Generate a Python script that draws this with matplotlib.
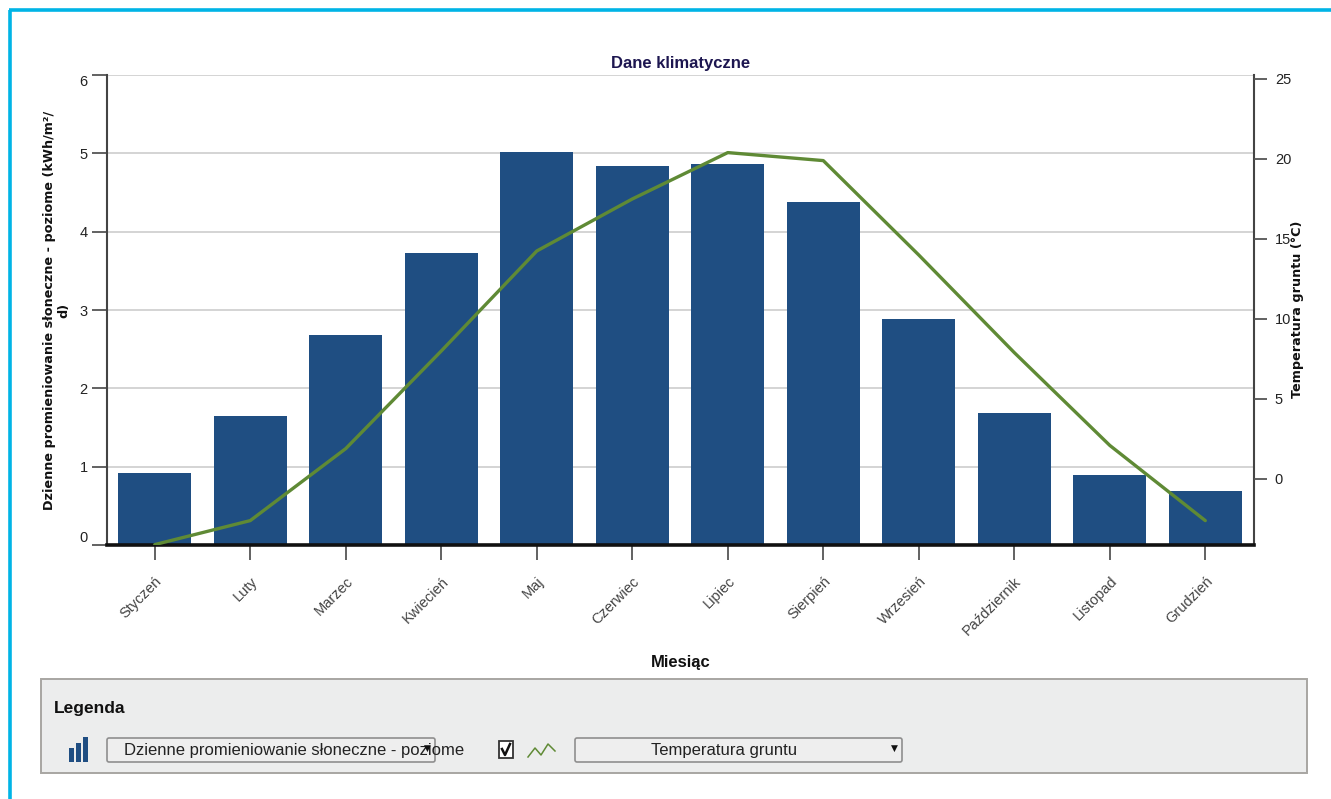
import matplotlib
matplotlib.use("Agg")
import matplotlib.pyplot as plt
from matplotlib import font_manager as fm
from matplotlib.patches import Rectangle, FancyBboxPatch

W, H = 1331, 799

months = ["Styczeń", "Luty", "Marzec", "Kwiecień", "Maj", "Czerwiec", "Lipiec",
          "Sierpień", "Wrzesień", "Październik", "Listopad", "Grudzień"]
irradiation = [0.92, 1.65, 2.68, 3.73, 5.02, 4.84, 4.87, 4.38, 2.88, 1.68, 0.90, 0.69]
ground_temp = [-4.1, -2.6, 1.9, 8.0, 14.25, 17.5, 20.4, 19.9, 14.0, 7.9, 2.1, -2.6]
left_ticks = [0, 1, 2, 3, 4, 5, 6]
right_ticks = [0, 5, 10, 15, 20, 25]

installed = {f.name for f in fm.fontManager.ttflist}
NARROW = "Liberation Sans Narrow" if "Liberation Sans Narrow" in installed else "Liberation Sans"

BAR = "#1f4e82"
LINE = "#5f8a35"
INK = "#222222"

fig = plt.figure(figsize=(W / 100, H / 100), dpi=100, facecolor="white")


def box(x0, y0, x1, y1):
    return [x0 / W, 1 - y1 / H, (x1 - x0) / W, (y1 - y0) / H]


ax = fig.add_axes(box(107, 75, 1254, 545))
ax.set_xlim(-0.5, 11.51)
ax.set_ylim(0, 6)
ax.bar(range(12), irradiation, width=0.765, color=BAR, zorder=2)
ax.grid(axis="y", color="#d4d4d4", lw=1.4, zorder=0)
ax.set_axisbelow(True)
ax.set_xticks(range(12))
ax.set_xticklabels(months, rotation=45, ha="right", rotation_mode="anchor",
                   family=NARROW, fontsize=10.5, color="#444444")
ax.set_yticks(left_ticks)
ax.set_yticklabels([str(v) for v in left_ticks], family=NARROW, fontsize=10.5, color=INK)
labels = ax.get_yticklabels()
labels[0].set_verticalalignment("bottom")
labels[-1].set_verticalalignment("top")
ax.tick_params(axis="x", length=11, width=1.3, color="#555555", pad=10)
ax.tick_params(axis="y", length=11, width=1.3, color="#555555", pad=3)
ax.spines["top"].set_visible(False)
ax.spines["left"].set_linewidth(1.5)
ax.spines["left"].set_color("#444444")
ax.spines["right"].set_linewidth(1.5)
ax.spines["right"].set_color("#444444")
ax.spines["bottom"].set_linewidth(2.6)
ax.spines["bottom"].set_color("#111111")
ax.set_title("Dane klimatyczne", family=NARROW, fontweight="bold", fontsize=12,
             color="#1d1650", pad=5)
ax.set_xlabel("Miesiąc", family=NARROW, fontweight="bold", fontsize=12, color="#111111")
ax.xaxis.set_label_coords(0.5, 1 - (655 - 75) / 470, transform=ax.transAxes)
fig.text(57 / W, 1 - 310 / H, "Dzienne promieniowanie słoneczne - poziome (kWh/m²/\nd)",
         rotation=90, ha="center", va="center", multialignment="center",
         fontweight="bold", fontsize=9.2, color="#111111", linespacing=1.15)

ax2 = ax.twinx()
ax2.set_ylim(-4.125, 25.25)
ax2.plot(range(12), ground_temp, color=LINE, lw=2.4, zorder=5, solid_capstyle="round",
         solid_joinstyle="round")
ax2.set_yticks(right_ticks)
ax2.set_yticklabels([str(v) for v in right_ticks], family=NARROW, fontsize=10.5, color=INK)
ax2.tick_params(axis="y", length=9, width=1.3, color="#555555", pad=6)
for s in ("top", "left", "bottom", "right"):
    ax2.spines[s].set_visible(False)
fig.text(1298 / W, 1 - 309 / H, "Temperatura gruntu (°C)", rotation=90, ha="center", va="center",
         fontweight="bold", fontsize=9.2, color="#111111")

# Page furniture and the legend panel, laid out in pixel coordinates
ui = fig.add_axes([0, 0, 1, 1], zorder=10)
ui.set_xlim(0, W)
ui.set_ylim(H, 0)
ui.axis("off")
ui.patch.set_alpha(0)

ui.plot([10, 10], [H, 10], color="#00b4e6", lw=2.6, solid_capstyle="butt")
ui.plot([9, W], [10, 10], color="#00b4e6", lw=2.6, solid_capstyle="butt")

ui.add_patch(Rectangle((41, 679), 1266, 94, fc="#eceded", ec="#a8a6a2", lw=1.4))
ui.text(54, 708, "Legenda", family=NARROW, fontweight="bold", fontsize=12.5, color="#111111",
        va="center", ha="left")

for x, top in zip((69, 76, 83), (748, 743, 737)):
    ui.add_patch(Rectangle((x, top), 5, 762 - top, fc=BAR, ec="none"))


def dropdown(x0, x1, label, centred):
    ui.add_patch(FancyBboxPatch((x0 + 2, 738), x1 - x0 - 4, 24,
                                boxstyle="round,pad=0,rounding_size=2",
                                fc="#eeeeee", ec="#8f8f8f", lw=1.2))
    if centred:
        ui.text((x0 + x1) / 2 - 14, 751, label, family=NARROW, fontsize=12, color="#222222",
                ha="center", va="center")
    else:
        ui.text(x0 + 19, 751, label, family=NARROW, fontsize=12, color="#222222",
                ha="left", va="center")
    ui.text(x1 - 10, 748, "▼", fontsize=6.5, color="#111111", ha="center", va="center",
            family="DejaVu Sans")


dropdown(105, 437, "Dzienne promieniowanie słoneczne - poziome", False)
dropdown(573, 904, "Temperatura gruntu", True)

ui.add_patch(Rectangle((499, 741), 14, 17, fc="white", ec="#333333", lw=1.3))
ui.plot([502, 505, 510], [749, 755, 744], color="#111111", lw=1.8)
ui.plot([528, 535, 541, 548, 555], [757, 748, 755, 744, 751], color=LINE, lw=1.1)

fig.savefig("out.png", dpi=100, facecolor="white")
